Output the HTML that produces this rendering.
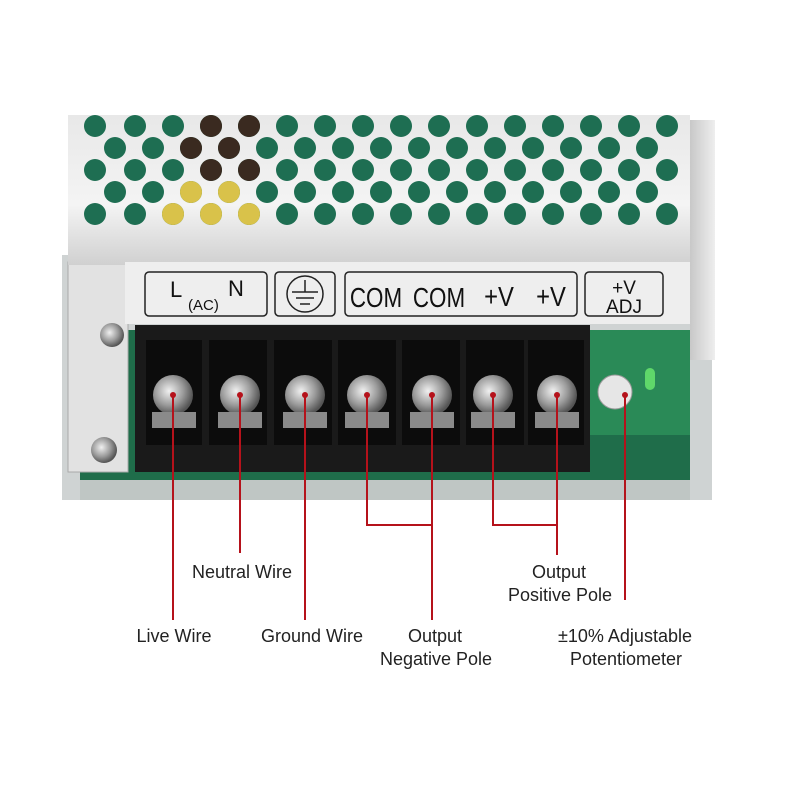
<!DOCTYPE html>
<html><head><meta charset="utf-8"><style>
html,body{margin:0;padding:0;background:#fff;}
body{width:800px;height:800px;overflow:hidden;}
text{font-family:"Liberation Sans",sans-serif;}
</style></head><body>
<svg width="800" height="800" viewBox="0 0 800 800" xmlns="http://www.w3.org/2000/svg">
<defs>
<linearGradient id="metal" x1="0" y1="0" x2="0" y2="1">
<stop offset="0" stop-color="#e8e8e8"/><stop offset="0.6" stop-color="#f4f4f4"/><stop offset="1" stop-color="#d0d0d0"/>
</linearGradient>
<linearGradient id="side" x1="0" y1="0" x2="1" y2="0">
<stop offset="0" stop-color="#c8c8c8"/><stop offset="1" stop-color="#eeeeee"/>
</linearGradient>
<radialGradient id="screw" cx="0.4" cy="0.4" r="0.6">
<stop offset="0" stop-color="#f0f0f0"/><stop offset="0.6" stop-color="#9a9a9a"/><stop offset="1" stop-color="#555"/>
</radialGradient>
</defs>
<rect x="62" y="255" width="650" height="245" fill="#cfd3d3"/>
<rect x="690" y="120" width="25" height="240" fill="url(#side)"/>
<rect x="80" y="330" width="610" height="160" fill="#1f6d4a"/>
<rect x="590" y="330" width="100" height="105" fill="#2a8a57"/>
<rect x="80" y="480" width="610" height="20" fill="#bfc6c4"/>
<rect x="68" y="262" width="60" height="210" fill="#e2e2e2" stroke="#aaa"/>
<circle cx="112" cy="335" r="12" fill="url(#screw)"/>
<circle cx="104" cy="450" r="13" fill="url(#screw)"/>
<rect x="68" y="115" width="622" height="150" fill="url(#metal)"/>
<g fill="#1e6e52">
<g id="r1">
<circle cx="95" cy="126" r="11"/><circle cx="135" cy="126" r="11"/><circle cx="173" cy="126" r="11"/><circle cx="211" cy="126" r="11"/><circle cx="249" cy="126" r="11"/><circle cx="287" cy="126" r="11"/><circle cx="325" cy="126" r="11"/><circle cx="363" cy="126" r="11"/><circle cx="401" cy="126" r="11"/><circle cx="439" cy="126" r="11"/><circle cx="477" cy="126" r="11"/><circle cx="515" cy="126" r="11"/><circle cx="553" cy="126" r="11"/><circle cx="591" cy="126" r="11"/><circle cx="629" cy="126" r="11"/><circle cx="667" cy="126" r="11"/>
</g>
<g id="r2"><circle cx="115" cy="148" r="11"/><circle cx="153" cy="148" r="11"/><circle cx="191" cy="148" r="11"/><circle cx="229" cy="148" r="11"/><circle cx="267" cy="148" r="11"/><circle cx="305" cy="148" r="11"/><circle cx="343" cy="148" r="11"/><circle cx="381" cy="148" r="11"/><circle cx="419" cy="148" r="11"/><circle cx="457" cy="148" r="11"/><circle cx="495" cy="148" r="11"/><circle cx="533" cy="148" r="11"/><circle cx="571" cy="148" r="11"/><circle cx="609" cy="148" r="11"/><circle cx="647" cy="148" r="11"/></g>
<g transform="translate(0,44)"><use href="#r1"/></g>
<g transform="translate(0,44)"><use href="#r2"/></g>
<g transform="translate(0,88)"><use href="#r1"/></g>
</g>
<g fill="#d9c24a"><circle cx="173" cy="214" r="11"/><circle cx="211" cy="214" r="11"/><circle cx="249" cy="214" r="11"/><circle cx="191" cy="192" r="11"/><circle cx="229" cy="192" r="11"/></g>
<g fill="#3a2a20"><circle cx="211" cy="126" r="11"/><circle cx="249" cy="126" r="11"/><circle cx="229" cy="148" r="11"/><circle cx="191" cy="148" r="11"/><circle cx="211" cy="170" r="11"/><circle cx="249" cy="170" r="11"/></g>
<rect x="125" y="262" width="565" height="62" fill="#eeeeee"/>
<g fill="none" stroke="#222" stroke-width="1.5">
<rect x="145" y="272" width="122" height="44" rx="4"/>
<rect x="275" y="272" width="60" height="44" rx="4"/>
<rect x="345" y="272" width="232" height="44" rx="4"/>
<rect x="585" y="272" width="78" height="44" rx="4"/>
<circle cx="305" cy="294" r="18"/>
<path d="M305 280v12M292 292h26M296 298h18M300 304h10"/>
</g>
<g fill="#111">
<text x="170" y="297" font-size="22">L</text>
<text x="188" y="310" font-size="15">(AC)</text>
<text x="228" y="296" font-size="22">N</text>
<g font-size="28" text-anchor="middle">
<text x="376" y="307" transform="translate(376 0) scale(0.8,1) translate(-376 0)">COM</text>
<text x="439" y="307" transform="translate(439 0) scale(0.8,1) translate(-439 0)">COM</text>
<text x="499" y="306" transform="translate(499 0) scale(0.85,1) translate(-499 0)">+V</text>
<text x="551" y="306" transform="translate(551 0) scale(0.85,1) translate(-551 0)">+V</text>
</g>
<text x="624" y="294" font-size="19" text-anchor="middle">+V</text>
<text x="624" y="313" font-size="19" text-anchor="middle">ADJ</text>
</g>
<rect x="135" y="325" width="455" height="147" fill="#1a1a1a"/>
<g fill="#0c0c0c">
<rect x="146" y="340" width="56" height="105"/><rect x="209" y="340" width="58" height="105"/><rect x="274" y="340" width="58" height="105"/><rect x="338" y="340" width="58" height="105"/><rect x="402" y="340" width="58" height="105"/><rect x="466" y="340" width="58" height="105"/><rect x="528" y="340" width="56" height="105"/>
</g>
<g fill="url(#screw)">
<circle cx="173" cy="395" r="20"/><circle cx="240" cy="395" r="20"/><circle cx="305" cy="395" r="20"/><circle cx="367" cy="395" r="20"/><circle cx="432" cy="395" r="20"/><circle cx="493" cy="395" r="20"/><circle cx="557" cy="395" r="20"/>
</g>
<g fill="#8a8a8a"><rect x="152" y="412" width="44" height="16"/><rect x="218" y="412" width="44" height="16"/><rect x="283" y="412" width="44" height="16"/><rect x="345" y="412" width="44" height="16"/><rect x="410" y="412" width="44" height="16"/><rect x="471" y="412" width="44" height="16"/><rect x="535" y="412" width="44" height="16"/></g>
<circle cx="615" cy="392" r="17" fill="#e6e6e6" stroke="#999"/>
<rect x="645" y="368" width="10" height="22" rx="5" fill="#5fd86a"/>
<g stroke="#b5121b" stroke-width="2" fill="none">
<path d="M173 395V620"/><path d="M240 395V553"/><path d="M305 395V620"/>
<path d="M367 395V525H432"/><path d="M432 395V620"/>
<path d="M493 395V525H557"/><path d="M557 395V555"/>
<path d="M625 395V600"/>
</g>
<g fill="#b5121b"><circle cx="173" cy="395" r="3"/><circle cx="240" cy="395" r="3"/><circle cx="305" cy="395" r="3"/><circle cx="367" cy="395" r="3"/><circle cx="432" cy="395" r="3"/><circle cx="493" cy="395" r="3"/><circle cx="557" cy="395" r="3"/><circle cx="625" cy="395" r="3"/></g>
<g fill="#222" font-size="18" text-anchor="middle">
<text x="174" y="642">Live Wire</text>
<text x="242" y="578">Neutral Wire</text>
<text x="312" y="642">Ground Wire</text>
<text x="435" y="642">Output</text>
<text x="436" y="665">Negative Pole</text>
<text x="559" y="578">Output</text>
<text x="560" y="601">Positive Pole</text>
<text x="625" y="642">±10% Adjustable</text>
<text x="626" y="665">Potentiometer</text>
</g>
</svg>
</body></html>
